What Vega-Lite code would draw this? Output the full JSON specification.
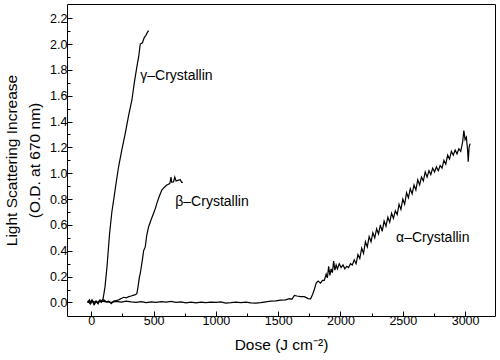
{
  "$schema": "https://vega.github.io/schema/vega-lite/v6.json",
  "width": 428,
  "height": 312,
  "autosize": "none",
  "padding": {"left": 67, "top": 4, "right": 5, "bottom": 44},
  "background": "white",
  "config": {
    "view": {"stroke": "black", "strokeWidth": 1},
    "font": "Liberation Sans",
    "axis": {"grid": false, "domain": false, "ticks": true, "tickWidth": 1, "tickColor": "black", "labelColor": "black", "titleColor": "black", "titleFontWeight": "normal", "labelFont": "Liberation Sans", "titleFont": "Liberation Sans", "labelOverlap": false}
  },
  "encoding": {
    "x": {
      "field": "x", "type": "quantitative",
      "scale": {"domain": [-195, 3240], "nice": false, "zero": false},
      "axis": {
        "values": [0, 250, 500, 750, 1000, 1250, 1500, 1750, 2000, 2250, 2500, 2750, 3000],
        "format": "d",
        "labelOverlap": false,
        "labelExpr": "datum.value % 500 === 0 ? datum.label : ''",
        "tickSize": {"condition": {"test": "datum.value % 500 === 0", "value": -5}, "value": -3},
        "labelFontSize": 12.5,
        "labelPadding": 3,
        "title": "Dose (J cm⁻²)",
        "titleFontSize": 15.5,
        "titlePadding": 9
      }
    },
    "y": {
      "field": "y", "type": "quantitative",
      "scale": {"domain": [-0.105, 2.31], "nice": false, "zero": false},
      "axis": {
        "values": [0, 0.1, 0.2, 0.3, 0.4, 0.5, 0.6, 0.7, 0.8, 0.9, 1.0, 1.1, 1.2, 1.3, 1.4, 1.5, 1.6, 1.7, 1.8, 1.9, 2.0, 2.1, 2.2],
        "format": ".1f",
        "labelOverlap": false,
        "labelExpr": "round(datum.value * 10) % 2 === 0 ? datum.label : ''",
        "tickSize": {"condition": {"test": "round(datum.value * 10) % 2 === 0", "value": -5}, "value": -3},
        "labelFontSize": 12.5,
        "labelPadding": 5,
        "title": ["Light Scattering Increase", "(O.D. at 670 nm)"],
        "titleFontSize": 15.5,
        "titleLineHeight": 23,
        "titlePadding": 7
      }
    }
  },
  "layer": [
    {
      "data": {"values": [
        {"s": "gamma", "x": -30, "y": 0.0},
        {"s": "gamma", "x": -15, "y": 0.02},
        {"s": "gamma", "x": -5, "y": -0.01},
        {"s": "gamma", "x": 10, "y": 0.015},
        {"s": "gamma", "x": 25, "y": -0.015},
        {"s": "gamma", "x": 40, "y": 0.01},
        {"s": "gamma", "x": 55, "y": -0.01},
        {"s": "gamma", "x": 70, "y": 0.02},
        {"s": "gamma", "x": 85, "y": 0.01},
        {"s": "gamma", "x": 95, "y": 0.03},
        {"s": "gamma", "x": 110, "y": 0.12},
        {"s": "gamma", "x": 126, "y": 0.276},
        {"s": "gamma", "x": 147, "y": 0.535},
        {"s": "gamma", "x": 165, "y": 0.70},
        {"s": "gamma", "x": 179, "y": 0.79},
        {"s": "gamma", "x": 200, "y": 0.93},
        {"s": "gamma", "x": 219, "y": 1.05},
        {"s": "gamma", "x": 245, "y": 1.18},
        {"s": "gamma", "x": 273, "y": 1.31},
        {"s": "gamma", "x": 300, "y": 1.45},
        {"s": "gamma", "x": 326, "y": 1.567},
        {"s": "gamma", "x": 345, "y": 1.70},
        {"s": "gamma", "x": 366, "y": 1.825},
        {"s": "gamma", "x": 380, "y": 1.90},
        {"s": "gamma", "x": 393, "y": 2.0},
        {"s": "gamma", "x": 410, "y": 2.01},
        {"s": "gamma", "x": 425, "y": 2.05},
        {"s": "gamma", "x": 440, "y": 2.07},
        {"s": "gamma", "x": 450, "y": 2.09},
        {"s": "gamma", "x": 460, "y": 2.104},
        {"s": "beta", "x": -30, "y": 0.01},
        {"s": "beta", "x": -10, "y": -0.01},
        {"s": "beta", "x": 5, "y": 0.02},
        {"s": "beta", "x": 20, "y": -0.015},
        {"s": "beta", "x": 35, "y": 0.01},
        {"s": "beta", "x": 50, "y": -0.005},
        {"s": "beta", "x": 65, "y": 0.015},
        {"s": "beta", "x": 80, "y": 0.0},
        {"s": "beta", "x": 100, "y": 0.02},
        {"s": "beta", "x": 120, "y": 0.005},
        {"s": "beta", "x": 140, "y": 0.01},
        {"s": "beta", "x": 160, "y": -0.01},
        {"s": "beta", "x": 180, "y": 0.01},
        {"s": "beta", "x": 200, "y": 0.015},
        {"s": "beta", "x": 220, "y": 0.02},
        {"s": "beta", "x": 240, "y": 0.03},
        {"s": "beta", "x": 260, "y": 0.04},
        {"s": "beta", "x": 280, "y": 0.035},
        {"s": "beta", "x": 300, "y": 0.045},
        {"s": "beta", "x": 320, "y": 0.05},
        {"s": "beta", "x": 340, "y": 0.057},
        {"s": "beta", "x": 355, "y": 0.06},
        {"s": "beta", "x": 366, "y": 0.07},
        {"s": "beta", "x": 375, "y": 0.12},
        {"s": "beta", "x": 385, "y": 0.19},
        {"s": "beta", "x": 393, "y": 0.224},
        {"s": "beta", "x": 410, "y": 0.33},
        {"s": "beta", "x": 420, "y": 0.40},
        {"s": "beta", "x": 433, "y": 0.43},
        {"s": "beta", "x": 445, "y": 0.52},
        {"s": "beta", "x": 460, "y": 0.586},
        {"s": "beta", "x": 480, "y": 0.64},
        {"s": "beta", "x": 500, "y": 0.69},
        {"s": "beta", "x": 515, "y": 0.73},
        {"s": "beta", "x": 526, "y": 0.767},
        {"s": "beta", "x": 545, "y": 0.82},
        {"s": "beta", "x": 566, "y": 0.87},
        {"s": "beta", "x": 585, "y": 0.89},
        {"s": "beta", "x": 606, "y": 0.909},
        {"s": "beta", "x": 630, "y": 0.92},
        {"s": "beta", "x": 640, "y": 0.97},
        {"s": "beta", "x": 645, "y": 0.93},
        {"s": "beta", "x": 660, "y": 0.934},
        {"s": "beta", "x": 670, "y": 0.97},
        {"s": "beta", "x": 680, "y": 0.94},
        {"s": "beta", "x": 700, "y": 0.947},
        {"s": "beta", "x": 714, "y": 0.95},
        {"s": "beta", "x": 725, "y": 0.93},
        {"s": "beta", "x": 735, "y": 0.93},
        {"s": "alpha", "x": -30, "y": 0.0},
        {"s": "alpha", "x": 0, "y": 0.01},
        {"s": "alpha", "x": 40, "y": 0.0},
        {"s": "alpha", "x": 80, "y": 0.01},
        {"s": "alpha", "x": 120, "y": 0.005},
        {"s": "alpha", "x": 160, "y": 0.0},
        {"s": "alpha", "x": 200, "y": 0.008},
        {"s": "alpha", "x": 240, "y": 0.002},
        {"s": "alpha", "x": 280, "y": 0.01},
        {"s": "alpha", "x": 320, "y": 0.004},
        {"s": "alpha", "x": 360, "y": 0.0},
        {"s": "alpha", "x": 400, "y": 0.006},
        {"s": "alpha", "x": 440, "y": -0.002},
        {"s": "alpha", "x": 480, "y": 0.004},
        {"s": "alpha", "x": 520, "y": 0.0},
        {"s": "alpha", "x": 560, "y": 0.006},
        {"s": "alpha", "x": 600, "y": 0.002},
        {"s": "alpha", "x": 640, "y": 0.008},
        {"s": "alpha", "x": 680, "y": 0.0},
        {"s": "alpha", "x": 720, "y": 0.004},
        {"s": "alpha", "x": 760, "y": -0.003},
        {"s": "alpha", "x": 800, "y": 0.003},
        {"s": "alpha", "x": 840, "y": -0.004},
        {"s": "alpha", "x": 880, "y": 0.002},
        {"s": "alpha", "x": 920, "y": -0.002},
        {"s": "alpha", "x": 960, "y": 0.003},
        {"s": "alpha", "x": 1000, "y": 0.0},
        {"s": "alpha", "x": 1040, "y": 0.004},
        {"s": "alpha", "x": 1080, "y": -0.005},
        {"s": "alpha", "x": 1120, "y": -0.002},
        {"s": "alpha", "x": 1160, "y": 0.003},
        {"s": "alpha", "x": 1200, "y": -0.002},
        {"s": "alpha", "x": 1240, "y": 0.002},
        {"s": "alpha", "x": 1280, "y": -0.004},
        {"s": "alpha", "x": 1320, "y": -0.006},
        {"s": "alpha", "x": 1360, "y": -0.002},
        {"s": "alpha", "x": 1400, "y": 0.004},
        {"s": "alpha", "x": 1440, "y": 0.01},
        {"s": "alpha", "x": 1480, "y": 0.012},
        {"s": "alpha", "x": 1520, "y": 0.018},
        {"s": "alpha", "x": 1560, "y": 0.02},
        {"s": "alpha", "x": 1590, "y": 0.03},
        {"s": "alpha", "x": 1610, "y": 0.025},
        {"s": "alpha", "x": 1630, "y": 0.055},
        {"s": "alpha", "x": 1650, "y": 0.05},
        {"s": "alpha", "x": 1680, "y": 0.045},
        {"s": "alpha", "x": 1710, "y": 0.045},
        {"s": "alpha", "x": 1740, "y": 0.03},
        {"s": "alpha", "x": 1760, "y": 0.028},
        {"s": "alpha", "x": 1775, "y": 0.06},
        {"s": "alpha", "x": 1790, "y": 0.10},
        {"s": "alpha", "x": 1805, "y": 0.15},
        {"s": "alpha", "x": 1820, "y": 0.165},
        {"s": "alpha", "x": 1840, "y": 0.15},
        {"s": "alpha", "x": 1855, "y": 0.17},
        {"s": "alpha", "x": 1870, "y": 0.17},
        {"s": "alpha", "x": 1885, "y": 0.22},
        {"s": "alpha", "x": 1895, "y": 0.19},
        {"s": "alpha", "x": 1905, "y": 0.28},
        {"s": "alpha", "x": 1915, "y": 0.21},
        {"s": "alpha", "x": 1925, "y": 0.26},
        {"s": "alpha", "x": 1935, "y": 0.23},
        {"s": "alpha", "x": 1945, "y": 0.32},
        {"s": "alpha", "x": 1955, "y": 0.25},
        {"s": "alpha", "x": 1965, "y": 0.29},
        {"s": "alpha", "x": 1975, "y": 0.26},
        {"s": "alpha", "x": 1990, "y": 0.30},
        {"s": "alpha", "x": 2005, "y": 0.27},
        {"s": "alpha", "x": 2020, "y": 0.29},
        {"s": "alpha", "x": 2035, "y": 0.26},
        {"s": "alpha", "x": 2050, "y": 0.28},
        {"s": "alpha", "x": 2065, "y": 0.27},
        {"s": "alpha", "x": 2080, "y": 0.30},
        {"s": "alpha", "x": 2095, "y": 0.29},
        {"s": "alpha", "x": 2110, "y": 0.33},
        {"s": "alpha", "x": 2125, "y": 0.30},
        {"s": "alpha", "x": 2140, "y": 0.37},
        {"s": "alpha", "x": 2155, "y": 0.34},
        {"s": "alpha", "x": 2170, "y": 0.42},
        {"s": "alpha", "x": 2185, "y": 0.38},
        {"s": "alpha", "x": 2200, "y": 0.47},
        {"s": "alpha", "x": 2215, "y": 0.43},
        {"s": "alpha", "x": 2230, "y": 0.51},
        {"s": "alpha", "x": 2245, "y": 0.47},
        {"s": "alpha", "x": 2260, "y": 0.54},
        {"s": "alpha", "x": 2275, "y": 0.50},
        {"s": "alpha", "x": 2290, "y": 0.57},
        {"s": "alpha", "x": 2305, "y": 0.53},
        {"s": "alpha", "x": 2320, "y": 0.60},
        {"s": "alpha", "x": 2335, "y": 0.55},
        {"s": "alpha", "x": 2350, "y": 0.63},
        {"s": "alpha", "x": 2365, "y": 0.59},
        {"s": "alpha", "x": 2380, "y": 0.66},
        {"s": "alpha", "x": 2395, "y": 0.62},
        {"s": "alpha", "x": 2410, "y": 0.69},
        {"s": "alpha", "x": 2425, "y": 0.65},
        {"s": "alpha", "x": 2440, "y": 0.71},
        {"s": "alpha", "x": 2455, "y": 0.68},
        {"s": "alpha", "x": 2470, "y": 0.76},
        {"s": "alpha", "x": 2485, "y": 0.72},
        {"s": "alpha", "x": 2500, "y": 0.80},
        {"s": "alpha", "x": 2515, "y": 0.76},
        {"s": "alpha", "x": 2530, "y": 0.85},
        {"s": "alpha", "x": 2545, "y": 0.81},
        {"s": "alpha", "x": 2560, "y": 0.88},
        {"s": "alpha", "x": 2575, "y": 0.84},
        {"s": "alpha", "x": 2590, "y": 0.91},
        {"s": "alpha", "x": 2605, "y": 0.87},
        {"s": "alpha", "x": 2620, "y": 0.95},
        {"s": "alpha", "x": 2635, "y": 0.91},
        {"s": "alpha", "x": 2650, "y": 0.97},
        {"s": "alpha", "x": 2665, "y": 0.94},
        {"s": "alpha", "x": 2680, "y": 1.01},
        {"s": "alpha", "x": 2695, "y": 0.97},
        {"s": "alpha", "x": 2710, "y": 1.02},
        {"s": "alpha", "x": 2725, "y": 0.99},
        {"s": "alpha", "x": 2740, "y": 1.04},
        {"s": "alpha", "x": 2755, "y": 1.01},
        {"s": "alpha", "x": 2770, "y": 1.05},
        {"s": "alpha", "x": 2785, "y": 1.02},
        {"s": "alpha", "x": 2800, "y": 1.06},
        {"s": "alpha", "x": 2815, "y": 1.04},
        {"s": "alpha", "x": 2830, "y": 1.10},
        {"s": "alpha", "x": 2845, "y": 1.07},
        {"s": "alpha", "x": 2860, "y": 1.14},
        {"s": "alpha", "x": 2875, "y": 1.11},
        {"s": "alpha", "x": 2890, "y": 1.17},
        {"s": "alpha", "x": 2905, "y": 1.14},
        {"s": "alpha", "x": 2920, "y": 1.18},
        {"s": "alpha", "x": 2935, "y": 1.15},
        {"s": "alpha", "x": 2950, "y": 1.19},
        {"s": "alpha", "x": 2965, "y": 1.17},
        {"s": "alpha", "x": 2980, "y": 1.24},
        {"s": "alpha", "x": 2990, "y": 1.33},
        {"s": "alpha", "x": 3000, "y": 1.26},
        {"s": "alpha", "x": 3010, "y": 1.28},
        {"s": "alpha", "x": 3020, "y": 1.18},
        {"s": "alpha", "x": 3025, "y": 1.09},
        {"s": "alpha", "x": 3032, "y": 1.20},
        {"s": "alpha", "x": 3040, "y": 1.23}
      ]},
      "mark": {"type": "line", "color": "black", "strokeWidth": 1.2},
      "encoding": {
        "detail": {"field": "s"}
      }
    },
    {
      "data": {"values": [
        {"x": 393, "y": 1.753, "label": "γ–Crystallin"},
        {"x": 674, "y": 0.779, "label": "β–Crystallin"},
        {"x": 2446, "y": 0.50, "label": "α–Crystallin"}
      ]},
      "mark": {"type": "text", "align": "left", "baseline": "middle", "fontSize": 14, "font": "Liberation Sans", "color": "black"},
      "encoding": {
        "text": {"field": "label"}
      }
    }
  ]
}
